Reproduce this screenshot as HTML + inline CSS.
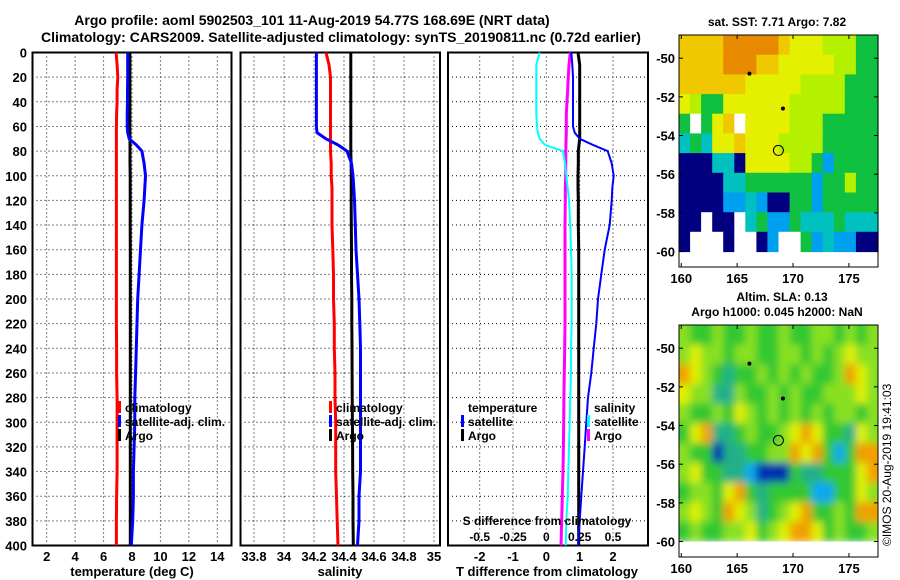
<!DOCTYPE html>
<html><head><meta charset="utf-8"><style>
html,body{margin:0;padding:0;background:#fff;}
svg{display:block;font-family:"Liberation Sans",sans-serif;font-weight:bold;}
</style></head><body>
<svg id="fig" width="900" height="580" viewBox="0 0 900 580" xmlns="http://www.w3.org/2000/svg">
<defs>
<filter id="blur" x="-5%" y="-5%" width="110%" height="110%"><feGaussianBlur stdDeviation="4"/></filter>
<clipPath id="slaClip"><rect x="679" y="325" width="199" height="218"/></clipPath>
</defs>
<text x="312" y="25" font-size="14" text-anchor="middle">Argo profile: aoml 5902503_101 11-Aug-2019 54.77S 168.69E (NRT data)</text>
<text x="341" y="42" font-size="14" text-anchor="middle">Climatology: CARS2009. Satellite-adjusted climatology: synTS_20190811.nc (0.72d earlier)</text>
<g id="p1"></g>
<g id="p2"></g>
<g id="p3"></g>
<g id="m1"></g>
<g id="m2"></g>
<text x="777" y="26" font-size="12" text-anchor="middle">sat. SST: 7.71 Argo: 7.82</text>
<text x="782" y="301" font-size="12" text-anchor="middle">Altim. SLA: 0.13</text>
<text x="777" y="316" font-size="12" text-anchor="middle">Argo h1000: 0.045 h2000: NaN</text>
<text transform="translate(891,546) rotate(-90)" font-size="12" font-weight="normal">©IMOS 20-Aug-2019 19:41:03</text>
</svg>
<script>
// ---- profile data ----
const depths = [0,10,20,30,40,50,60,65,70,75,80,90,100,110,120,140,160,180,200,220,240,260,280,300,320,340,360,380,400];
const tClim = [6.88,6.95,7.0,6.95,6.95,6.92,6.9,6.9,6.9,6.9,6.9,6.9,6.9,6.9,6.9,6.9,6.9,6.9,6.9,6.9,6.92,6.92,6.95,6.95,6.95,6.95,6.92,6.9,6.9];
const tSat = [7.7,7.7,7.7,7.68,7.68,7.66,7.66,7.7,7.8,8.3,8.7,8.85,8.95,8.9,8.85,8.7,8.6,8.5,8.4,8.35,8.3,8.25,8.2,8.2,8.15,8.1,8.1,8.05,7.95];
const tArgo = [7.85,7.85,7.85,7.85,7.85,7.85,7.85,7.85,7.86,7.86,7.86,7.86,7.87,7.87,7.87,7.87,7.88,7.88,7.88,7.88,7.88,7.88,7.88,7.88,7.88,7.88,7.88,7.88,7.88];
const sClim = [34.28,34.30,34.31,34.31,34.31,34.31,34.31,34.31,34.31,34.31,34.31,34.315,34.315,34.32,34.32,34.32,34.325,34.33,34.33,34.335,34.335,34.34,34.34,34.345,34.345,34.345,34.35,34.355,34.36];
const sSat = [34.216,34.216,34.216,34.216,34.216,34.216,34.216,34.22,34.28,34.36,34.42,34.45,34.46,34.465,34.47,34.475,34.48,34.49,34.5,34.505,34.51,34.51,34.51,34.51,34.51,34.51,34.5,34.5,34.49];
const sArgo = [34.445,34.445,34.445,34.445,34.445,34.445,34.445,34.445,34.445,34.445,34.445,34.447,34.448,34.448,34.448,34.449,34.45,34.45,34.452,34.452,34.453,34.454,34.455,34.456,34.457,34.458,34.46,34.46,34.462];
const tDiffSat = [0.75,0.78,0.8,0.8,0.8,0.8,0.8,0.85,1.0,1.4,1.84,1.96,2.02,1.98,1.96,1.9,1.75,1.65,1.55,1.5,1.42,1.35,1.25,1.2,1.15,1.1,1.05,1.0,0.95];
const tDiffArgo = [0.95,1.0,1.0,1.0,1.0,1.0,1.0,1.0,1.0,0.98,0.96,0.96,0.95,0.95,0.96,0.96,0.97,0.97,0.97,0.97,0.97,0.97,0.97,0.97,0.97,0.97,0.97,0.97,0.97];
const sDiffSat = [-0.05,-0.075,-0.075,-0.075,-0.075,-0.075,-0.07,-0.065,-0.05,-0.01,0.125,0.14,0.15,0.16,0.17,0.18,0.185,0.19,0.19,0.19,0.185,0.185,0.18,0.175,0.17,0.165,0.16,0.15,0.145];
const sDiffArgo = [0.18,0.17,0.165,0.16,0.155,0.15,0.15,0.15,0.148,0.147,0.146,0.145,0.145,0.142,0.142,0.14,0.14,0.14,0.14,0.14,0.138,0.135,0.132,0.13,0.128,0.125,0.12,0.115,0.11];
const tTicks = [2,4,6,8,10,12,14];
const sTicks = [33.8,34,34.2,34.4,34.6,34.8,35];
const dTicks = [-2,-1,0,1,2];
const sdTicks = [-0.5,-0.25,0,0.25,0.5];
const depthTicks = [0,20,40,60,80,100,120,140,160,180,200,220,240,260,280,300,320,340,360,380,400];
const latTicks = [-50,-52,-54,-56,-58,-60];
const lonTicks = [160,165,170,175];

const NS="http://www.w3.org/2000/svg";
function mk(parent,tag,attrs,txt){const e=document.createElementNS(NS,tag);for(const k in attrs)e.setAttribute(k,attrs[k]);if(txt!==undefined)e.textContent=txt;parent.appendChild(e);return e;}
const Y0=52.5,YPX=1.2325;
const yD=d=>Y0+d*YPX;

function panel(g,x0,x1,vmin,vmax,ticks,fmt,showDepth){
  const xs=v=>x0+(v-vmin)/(vmax-vmin)*(x1-x0);
  depthTicks.forEach(d=>{ if(d>0&&d<400){const l=mk(g,'line',{x1:x0,x2:x1,y1:yD(d),y2:yD(d),stroke:'#000','stroke-width':1,'stroke-dasharray':'1,3'});
    
    }
    if(showDepth){const t=mk(g,'text',{x:27,y:yD(d)+5,'font-size':13,'text-anchor':'end'},String(d));
    
    }
  });
  ticks.forEach(v=>{const l=mk(g,'line',{x1:xs(v),x2:xs(v),y1:Y0,y2:yD(400),stroke:'#000','stroke-width':1,'stroke-dasharray':'1,3'});
    
    
    const t=mk(g,'text',{x:xs(v),y:561,'font-size':13,'text-anchor':'middle'},fmt(v));
    
    });
  const r=mk(g,'rect',{x:x0,y:Y0,width:x1-x0,height:yD(400)-Y0,fill:'none',stroke:'#000','stroke-width':2});
  
  
  return xs;
}
function line(g,xs,vals,color,w,name){
  const pts=vals.map((v,i)=>xs(v).toFixed(1)+','+yD(depths[i]).toFixed(1)).join(' ');
  const p=mk(g,'polyline',{points:pts,fill:'none',stroke:color,'stroke-width':w,'stroke-linejoin':'miter'});
  
  
}
function legend(g,x,y,color,label,name){
  if(color){const r=mk(g,'rect',{x:x-7,y:y-11,width:3,height:12,fill:color});
  
  }
  const t=mk(g,'text',{x:x,y:y,'font-size':12},label);
  
  
}
// panel 1
const g1=document.getElementById('p1');
const x1s=panel(g1,32.5,231.5,1,15,tTicks,String,true);
line(g1,x1s,tClim,'#ff0000',3,'temperature-climatology-line');
line(g1,x1s,tArgo,'#000000',3,'temperature-argo-line');
line(g1,x1s,tSat,'#0000ff',3,'temperature-satellite-line');
legend(g1,125,412,'#ff0000','climatology','legend-climatology');
legend(g1,125,426,'#0000ff','satellite-adj. clim.','legend-satellite-adj');
legend(g1,125,440,'#000000','Argo','legend-argo');
const t1=mk(g1,'text',{x:132,y:576,'font-size':13,'text-anchor':'middle'},'temperature (deg C)');


// panel 2
const g2=document.getElementById('p2');
const x2s=panel(g2,240.5,440,33.71,35.04,sTicks,String,false);
line(g2,x2s,sClim,'#ff0000',3,'salinity-climatology-line');
line(g2,x2s,sArgo,'#000000',3,'salinity-argo-line');
line(g2,x2s,sSat,'#0000ff',3,'salinity-satellite-line');
legend(g2,336,412,'#ff0000','climatology','legend-climatology');
legend(g2,336,426,'#0000ff','satellite-adj. clim.','legend-satellite-adj');
legend(g2,336,440,'#000000','Argo','legend-argo');
const t2=mk(g2,'text',{x:340,y:576,'font-size':13,'text-anchor':'middle'},'salinity');


// panel 3
const g3=document.getElementById('p3');
const x3s=panel(g3,448,648,-2.95,3.05,dTicks,String,false);
const sd=v=>x3s(v*4);
line(g3,sd,sDiffArgo,'#ff00ff',3,'salinity-argo-diff-line');
line(g3,sd,sDiffSat,'#00ffff',2,'salinity-satellite-diff-line');
line(g3,x3s,tDiffArgo,'#000000',3,'temperature-argo-diff-line');
line(g3,x3s,tDiffSat,'#0000ff',2,'temperature-satellite-diff-line');
legend(g3,468,412,null,'temperature','legend-temperature-heading');
legend(g3,468,426,'#0000ff','satellite','legend-t-satellite');
legend(g3,468,440,'#000000','Argo','legend-t-argo');
legend(g3,594,412,null,'salinity','legend-salinity-heading');
legend(g3,594,426,'#00ffff','satellite','legend-s-satellite');
legend(g3,594,440,'#ff00ff','Argo','legend-s-argo');
const st=mk(g3,'text',{x:547,y:525,'font-size':12,'text-anchor':'middle'},'S difference from climatology');


sdTicks.forEach(v=>{const t=mk(g3,'text',{x:sd(v),y:541,'font-size':12,'text-anchor':'middle'},String(v));
  
  });
const t3=mk(g3,'text',{x:547,y:576,'font-size':13,'text-anchor':'middle'},'T difference from climatology');



// ---- maps ----
const sstGrid=["YYYYOOOOOYyyyLLLGG","YYYYOOOYYyyyyyLLGG","YYYYYYyyyyyLLLLGGG","yLGGyyyyyyLLLLLGGG","GWGyYWyyyyLLLGGGGG","CGCyyYyyyLLLLGGGGG","NNNCCNyyyyLLGBGGGG","NNNNCCGGGGGGBGGLGG","NNNNBBCBNNGGBGGGGG","NNWNNWCGBBGCCCGCCC","NWWWNWWNBWWGBCBBNN"];
const slaGrid=["lgglgglgglggllglgl","lyllgllggllglglyll","oylgcgglglglggloyl","yllcclgglglgglllyl","lgglgylglglglgllgl","gyoccglgglyoyggcyl","lggdccgglloyogbgoo","lyggccbdddgccgggyo","gllgyogcggggbbggyl","lylgoylcglyogglgoo","glggllyglyooyglggl"];
const sstCol={Y:'#f0c800',O:'#e88a00',y:'#e4f000',L:'#b4f000',G:'#10c040',C:'#00c0c0',B:'#00a0f0',N:'#000080',W:'#ffffff'};
const slaCol={l:'#88e020',g:'#30c830',y:'#e0f000',o:'#f0a000',c:'#20b088',b:'#10a8f0',d:'#0030b0'};
function map(id,top,grid,cols,nm,blur){
  const g=document.getElementById(id);
  const L=679,R=878,B=top+232;
  const lx=v=>L+(v-159.8)/(177.6-159.8)*(R-L);
  const ly=v=>top+(-48.8-v)/12*(B-top);
  const cw=(R-L)/18,ch=(ly(-60)-top)/grid.length;
  let cg=g;
  if(blur){const outer=mk(g,'g',{'clip-path':'url(#slaClip)'});cg=mk(outer,'g',{filter:'url(#blur)'});
    mk(cg,'rect',{x:L-10,y:top-10,width:R-L+20,height:ly(-60)-top+10,fill:'#60d028'});}
  grid.forEach((row,i)=>{[...row].forEach((c,j)=>{
    const r=mk(cg,'rect',{x:(L+j*cw).toFixed(1),y:(top+i*ch).toFixed(1),width:(cw+0.6).toFixed(1),height:(ch+0.6).toFixed(1),fill:cols[c]});
    
    });});
  if(blur){
    // extend edge cells outward so blur does not fade at borders
    grid.forEach((row,i)=>{
      mk(cg,'rect',{x:L-10,y:top+i*ch,width:10,height:ch+0.6,fill:cols[row[0]]});
      mk(cg,'rect',{x:R,y:top+i*ch,width:10,height:ch+0.6,fill:cols[row[row.length-1]]});});
    [...grid[0]].forEach((c,j)=>mk(cg,'rect',{x:L+j*cw,y:top-10,width:cw+0.6,height:10,fill:cols[c]}));
    mk(g,'rect',{x:L,y:ly(-60),width:R-L,height:B-ly(-60),fill:'#fff'});
  }
  const dots=[[166.1,-50.8],[169.1,-52.6]];
  dots.forEach(d=>{const c=mk(g,'circle',{cx:lx(d[0]),cy:ly(d[1]),r:2,fill:'#000'});
    
    });
  const pc=mk(g,'circle',{cx:lx(168.69),cy:ly(-54.77),r:5,fill:'none',stroke:'#000','stroke-width':1});
  
  
  const fr=mk(g,'rect',{x:L,y:top,width:R-L,height:B-top,fill:'none',stroke:'#000','stroke-width':1});
  
  
  latTicks.forEach(v=>{mk(g,'line',{x1:L,x2:L+4,y1:ly(v),y2:ly(v),stroke:'#000'});mk(g,'line',{x1:R-4,x2:R,y1:ly(v),y2:ly(v),stroke:'#000'});
    const t=mk(g,'text',{x:675,y:ly(v)+5,'font-size':13,'text-anchor':'end'},String(v));
    
    });
  lonTicks.forEach(v=>{mk(g,'line',{x1:lx(v),x2:lx(v),y1:B,y2:B-4,stroke:'#000'});mk(g,'line',{x1:lx(v),x2:lx(v),y1:top,y2:top+4,stroke:'#000'});
    const t=mk(g,'text',{x:lx(v),y:B+16,'font-size':13,'text-anchor':'middle'},String(v));
    
    });
}
map('m1',35,sstGrid,sstCol,'sst-map',false);
map('m2',325,slaGrid,slaCol,'sla-map',true);
</script>
</body></html>
